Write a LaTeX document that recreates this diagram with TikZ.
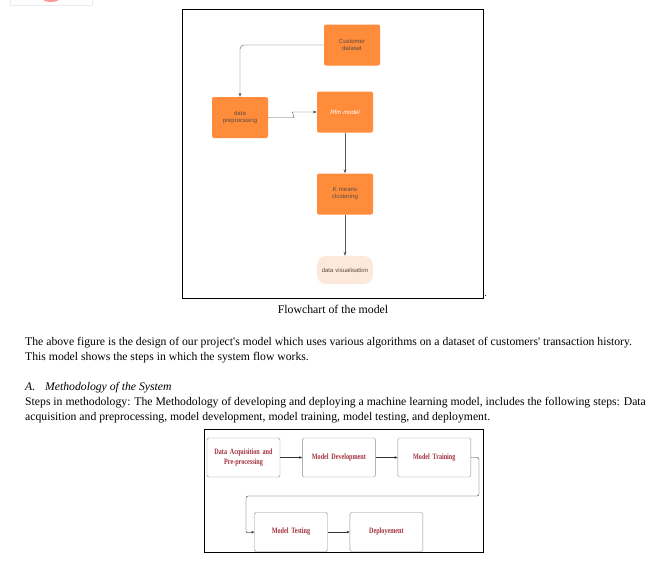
\documentclass[tikz,border=0pt]{standalone}
\usepackage{fontspec}
\setmainfont{Liberation Serif}
\setsansfont{Liberation Sans}
\newfontfamily\stepfont[FakeStretch=0.75]{Liberation Serif}
\usetikzlibrary{arrows.meta, positioning}

\definecolor{lucidorange}{HTML}{FF8C3B}
\definecolor{lucidpeach}{HTML}{FDE9DB}
\definecolor{boxtext}{HTML}{5A4A42}
\definecolor{steptext}{HTML}{A3303E}

\begin{document}
\begin{tikzpicture}[x=1pt, y=-1pt,
    block/.style={rectangle, fill=lucidorange, rounded corners=2pt,
                  minimum height=41pt, minimum width=56pt, text width=50pt,
                  align=center, font=\sffamily\fontsize{6}{7}\selectfont,
                  text=boxtext, inner sep=0pt},
    endblock/.style={block, fill=lucidpeach, minimum height=28pt,
                     rounded corners=9pt},
    flow/.style={-{Stealth[length=4pt, width=3pt]}, draw=black!65, thin,
                 rounded corners=4pt},
    stepbox/.style={rectangle, draw=black!45, fill=white, rounded corners=1.5pt,
                    minimum height=39pt, minimum width=73pt, text width=70pt,
                    align=center, inner sep=0pt, text=steptext,
                    font=\stepfont\bfseries\fontsize{8.2}{10}\selectfont},
    steparrow/.style={-{Stealth[length=3pt, width=2.5pt]}, draw=black!80, thin},
    bodytext/.style={anchor=base west, inner sep=0pt,
                     font=\fontsize{11.7}{15}\selectfont}
]
\useasboundingbox (0,0) rectangle (657,566);
\clip (0,0) rectangle (657,566);

% Cut-off picture at the top
\draw[black!8] (10,-5) rectangle (92,5);
\fill[red!40] (51,-2) ellipse (9pt and 4pt);

% Flowchart of the model
\draw[black] (182,9) rectangle (483,298);
\node[inner sep=0pt] (dot) at (485.5,296) {.};

\node[block] (customer) at (352,45) {Customer\\dataset};
\node[block] (prep) at (240,117.5) {data\\preprocssing};
\node[block, text=white, font=\sffamily\itshape\fontsize{6}{7}\selectfont] (rfm) at (345,112) {Rfm model};
\node[block] (kmeans) at (345,194) {K means\\clustering};
\node[endblock] (vis) at (345,270) {data visualisation};

\draw[flow] (customer.west) -| (prep.north);
\draw[flow] (prep.east) -- ++(22,0) to[out=0, in=180] ++(6,-5.5) -- (rfm.west);
\draw[flow] (rfm) -- (kmeans);
\draw[flow] (kmeans) -- (vis);

\node[font=\fontsize{11.8}{13}\selectfont] (caption) at (333,309) {Flowchart of the model};

% Text of the page
\node[bodytext] (para1) at (25,345) {The above figure is the design of our project\textquotesingle s model which uses various algorithms on a dataset of customers\textquotesingle{} transaction history.};
\node[bodytext] (para2) at (25,360) {This model shows the steps in which the system flow works.};
\node[bodytext, font=\fontsize{11.7}{15}\selectfont\itshape] (secnum) at (25,390) {A.};
\node[bodytext, font=\fontsize{11.7}{15}\selectfont\itshape] (sectitle) at (45,390) {Methodology of the System};
\node[bodytext] (para3) at (25,405) {Steps in methodology: The Methodology of developing and deploying a machine learning model, includes the following steps: Data};
\node[bodytext] (para4) at (25,420) {acquisition and preprocessing, model development, model training, model testing, and deployment.};

% Steps in methodology
\draw[black] (204,429) rectangle (483,552);
\node[stepbox] (acq) at (243.5,457.5) {Data Acquisition and\\Pre-processing};
\node[stepbox, right=22pt of acq] (dev) {Model Development};
\node[stepbox, right=22pt of dev] (train) {Model Training};
\node[stepbox] (test) at (291,532) {Model Testing};
\node[stepbox, right=22pt of test] (deploy) {Deployement};

\coordinate (turn) at (479,496);
\draw[steparrow] (acq) -- (dev);
\draw[steparrow] (dev) -- (train);
\draw[steparrow, rounded corners=2pt] (train.east) -| (turn) -| (246,533) -- (test.west);
\draw[steparrow] (test) -- (deploy);

\end{tikzpicture}
\end{document}
